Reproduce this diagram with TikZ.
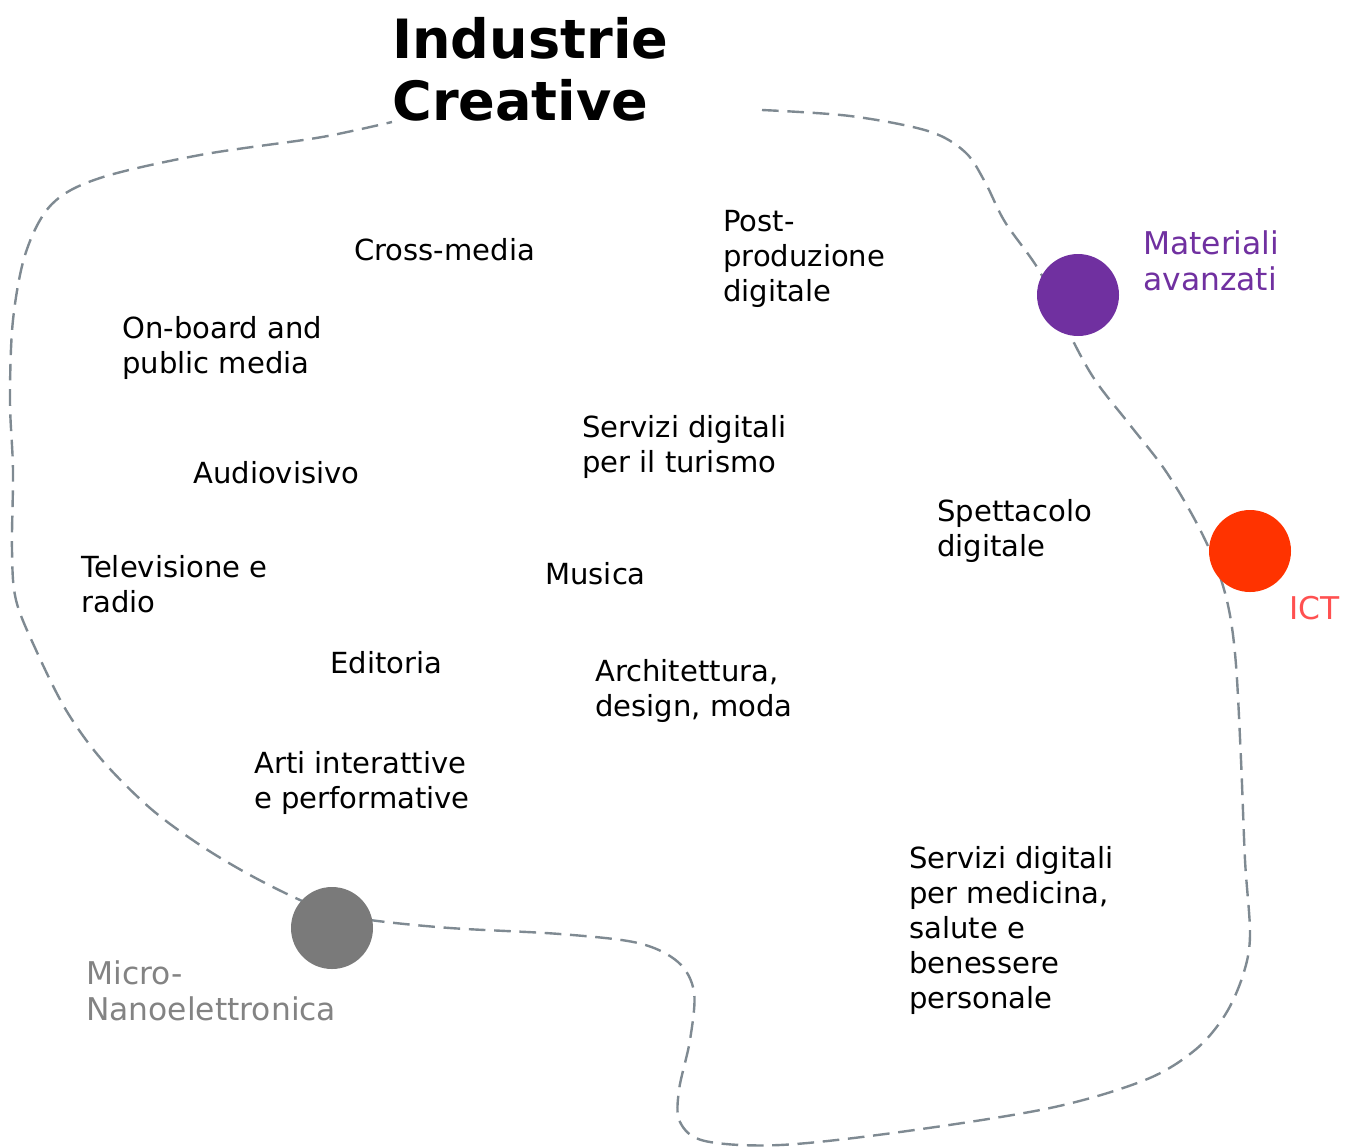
\documentclass[tikz,border=0pt]{standalone}
\usepackage{fontspec}
\setmainfont{DejaVu Sans}
\usetikzlibrary{calc}
\definecolor{ink}{HTML}{000000}
\definecolor{path}{HTML}{7F8A92}
\definecolor{matcol}{HTML}{7030A0}
\definecolor{ictdot}{HTML}{FF3300}
\definecolor{icttext}{HTML}{FF5050}
\definecolor{microdot}{HTML}{7A7A7A}
\definecolor{microtext}{HTML}{838383}
\newcommand{\itemfont}{\fontsize{21.8}{26.2}\selectfont}
\newcommand{\areafont}{\fontsize{23.5}{27}\selectfont}
\newcommand{\titlefont}{\fontsize{40.6}{46.5}\selectfont\bfseries}

\begin{document}
\begin{tikzpicture}[x=0.75pt,y=-0.75pt,font=\itemfont,
  item/.style={anchor=base west,inner sep=0,align=left,text=ink},
  area/.style={anchor=base west,inner sep=0,align=left,font=\areafont},
  dot/.style={circle,inner sep=0,minimum size=61.5pt}]
\useasboundingbox (0,0) rectangle (1345,1147);
% bordo del distretto
\draw[path,line width=1.8pt,dash pattern=on 12.5pt off 6.5pt] plot[smooth,tension=0.55] coordinates {
  (762,110) (850,116) (928,131) (965,152) (985,182) (1005,222) (1040,272)
  (1070,335) (1095,380) (1130,425) (1165,470) (1195,520) (1216,565) (1229,610)
  (1236,665) (1241,760) (1245,860) (1250,935) (1243,975) (1225,1015) (1195,1050)
  (1145,1080) (1050,1108) (900,1132) (780,1145) (705,1141) (680,1122) (679,1090)
  (690,1040) (694,992) (678,962) (638,943) (560,934) (450,928) (370,920)
  (333,912) (300,900) (250,875) (200,845) (150,808) (102,760) (66,710) (36,650)
  (16,600) (12,550) (13,470) (10,400) (13,320) (26,252) (52,204) (100,178)
  (200,155) (310,139) (352,131) (392,122)};
% tecnologie abilitanti
\node[dot,fill=matcol] (mat) at (1078,295) {};
\node[dot,fill=ictdot] (ict) at (1250,551) {};
\node[dot,fill=microdot] (micro) at (332,928) {};
\node[area,text=matcol] (matlab) at (1143,290) {Materiali\\avanzati};
\node[area,text=icttext] (ictlab) at (1289,619) {ICT};
\node[area,text=microtext] (microlab) at (86,1020) {Micro-\\Nanoelettronica};
% titolo
\node[anchor=base west,inner sep=0,align=left,font=\titlefont] (title) at (392,120) {Industrie\\Creative};
% settori (ancorati alla riga di base dell'ultima riga)
\node[item] (cross) at (354,260) {Cross-media};
\node[item] (post) at (723,301) {Post-\\produzione\\digitale};
\node[item] (board) at (122,373) {On-board and\\public media};
\node[item] (turismo) at (582,472) {Servizi digitali\\per il turismo};
\node[item] (audio) at (193,483) {Audiovisivo};
\node[item] (spett) at (937,556) {Spettacolo\\digitale};
\node[item] (tv) at (81,612) {Televisione e\\radio};
\node[item] (musica) at (545,584) {Musica};
\node[item] (edit) at (330,673) {Editoria};
\node[item] (arch) at (595,716) {Architettura,\\design, moda};
\node[item] (arti) at (254,808) {Arti interattive\\e performative};
\node[item] (salute) at (909,1008) {Servizi digitali\\per medicina,\\salute e\\benessere\\personale};
\end{tikzpicture}
\end{document}
